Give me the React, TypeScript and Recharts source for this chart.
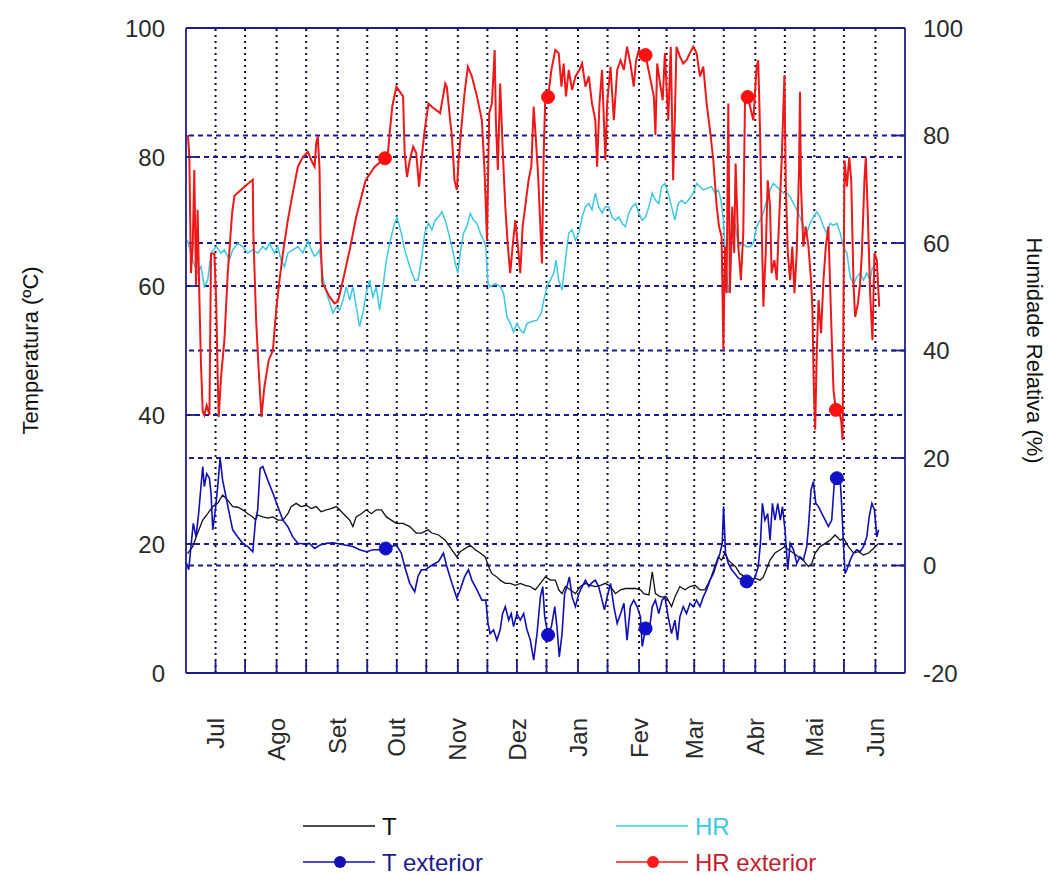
import React from 'react';
import { LineChart, Line, XAxis, YAxis, ReferenceLine } from 'recharts';

const NAVY = '#1c1c8e';
const FONT = '"Liberation Sans", Arial, Helvetica, sans-serif';
const TEXT = '#2a2a2a';

// x axis: day index, day 0 = 16 Jun
const MONTH_DAYS = [15, 46, 77, 107, 138, 168, 199, 230, 258, 289, 319, 350];
const MONTH_LABELS = ['Jul', 'Ago', 'Set', 'Out', 'Nov', 'Dez', 'Jan', 'Fev', 'Mar', 'Abr', 'Mai', 'Jun'];
const MID_MONTH_DAYS = [30, 61, 92, 122, 153, 183, 214, 244, 273, 304, 334];
const LEFT_TICKS = [0, 20, 40, 60, 80, 100];
const RIGHT_TICKS = [-20, 0, 20, 40, 60, 80, 100];
const LEFT_GRID = [20, 40, 60, 80];
const RIGHT_GRID = [0, 20, 40, 60, 80];

const T_EXT_MARKERS = [101.4, 183.8, 233.3, 284.6, 330.4];
const HR_EXT_MARKERS = [101, 183.8, 233.3, 285.1, 329.9];

// T (interior temperature, ºC)
const T_POINTS: [number, number][] = [
  [0.8, 18.5], [3.4, 19.6], [5.9, 21.7], [8.5, 23.7], [11, 24.7], [13.6, 25.8], [16.1, 26.3], [18.6, 27.6],
  [21.2, 26.8], [23.7, 25.8], [26.3, 25.7], [28.8, 25.3], [31.4, 24.7], [33.9, 24.2], [35.3, 23.7], [36.4, 24.5],
  [39, 24.2], [41.5, 24.0], [44.1, 24.2], [46.6, 23.7], [49.2, 23.7], [51.7, 24.7], [53.4, 25.8], [55.9, 26.3],
  [58.5, 25.8], [61, 26.0], [63.6, 25.5], [66.1, 25.8], [68.6, 25.0], [71.2, 25.3], [73.7, 25.5], [76.3, 25.8],
  [78, 25.3], [80.5, 24.5], [83.1, 23.7], [84.7, 22.7], [86.4, 24.2], [89, 24.7], [91.5, 25.3], [94.1, 24.7],
  [96.6, 25.3], [99.2, 25.3], [101.7, 24.2], [104.2, 23.7], [106.8, 23.2], [110.2, 23.2], [113.6, 22.7],
  [116.9, 21.7], [119.5, 21.7], [122.9, 22.2], [124.8, 21.7], [128.2, 21.4], [131.6, 20.6], [135, 19.1],
  [137.5, 18.0], [139.2, 18.8], [141.7, 19.3], [144.3, 19.8], [146.8, 19.1], [149.4, 18.6], [151.9, 18.0],
  [153.6, 16.5], [155.3, 15.4], [157.8, 14.9], [159.5, 14.4], [162.1, 13.9], [164.6, 13.9], [167.2, 13.6],
  [169.7, 13.9], [172.2, 13.6], [174.8, 13.4], [177.3, 12.9], [179.9, 13.9], [182.4, 14.9], [185, 14.4],
  [187.5, 14.4], [189.2, 12.9], [190.9, 12.3], [192.6, 13.4], [195.1, 12.9], [197.7, 12.3], [200.2, 13.4],
  [202.8, 13.9], [205.3, 13.6], [207.8, 13.4], [210.4, 13.6], [212.9, 13.9], [215.5, 13.4], [218, 12.3],
  [220.6, 12.9], [223.1, 13.1], [225.6, 13.1], [228.2, 13.1], [230.7, 12.9], [232.4, 12.3], [235, 12.1],
  [236.7, 15.7], [238.3, 12.3], [240.9, 11.8], [243.9, 11.8], [246.5, 10.3], [248.2, 11.8], [250.7, 13.4],
  [253.3, 12.9], [255.8, 13.4], [258.4, 13.6], [260.9, 12.9], [263.4, 12.9], [266, 14.4], [268.5, 16.5],
  [270.2, 18.0], [271.9, 17.5], [273.6, 18.6], [275.3, 17.5], [277, 17.0], [279, 16.5], [281.2, 15.4],
  [283.8, 14.9], [286.3, 14.4], [288.9, 14.7], [291.4, 14.4], [293.1, 14.9], [294.8, 16.2], [296.5, 17.5],
  [299, 18.6], [301.6, 19.1], [304.1, 19.6], [305.8, 19.1], [308.4, 18.6], [310.9, 18.0], [313.4, 17.5],
  [316, 16.5], [317.7, 17.0], [319.4, 18.6], [321.9, 19.6], [324.5, 20.1], [327, 20.6], [329.5, 21.4],
  [332.1, 20.6], [333.8, 20.9], [336.3, 19.6], [338.9, 18.6], [341.4, 18.8], [343.9, 18.3], [346.5, 18.6],
  [349, 19.3], [351.6, 20.1],
];

// T exterior (ºC)
const T_EXT_POINTS: [number, number][] = [
  [0.3, 17.0], [1.4, 16.0], [2.5, 19.6], [3.7, 23.2], [5.1, 21.1], [6.4, 24.7], [7.6, 28.9], [8.5, 32.0],
  [9.3, 28.9], [10.5, 30.9], [11.9, 30.2], [12.7, 27.9], [13.6, 22.2], [14.9, 25.3], [16.1, 28.9], [17.3, 33.3],
  [18.6, 29.9], [20.3, 27.3], [22, 24.7], [23.7, 22.2], [26.3, 21.1], [28.8, 20.1], [31.4, 19.6], [33.9, 18.8],
  [35.3, 23.7], [36.4, 25.3], [37.6, 31.7], [39, 32.0], [41.5, 29.9], [44.1, 27.9], [46.6, 25.8], [49.2, 23.7],
  [51.7, 22.7], [54.2, 21.1], [56.8, 20.1], [60.2, 20.0], [62.7, 20.1], [65.3, 19.3], [67.8, 19.8], [71.2, 20.1],
  [74.6, 20.2], [78, 20.0], [81.4, 19.8], [84.7, 19.6], [88.1, 19.1], [91.5, 18.8], [94.9, 19.1], [98.3, 19.1],
  [101.4, 19.3], [104.2, 19.6], [106.8, 19.8], [109.3, 18.6], [111, 16.5], [113.6, 13.9], [116.1, 12.6],
  [117.8, 15.0], [119.5, 16.0], [121.4, 16.0], [124.8, 16.7], [128.2, 17.3], [130.7, 18.6], [132.4, 16.5],
  [135, 13.9], [137.5, 11.6], [139.2, 12.9], [141.4, 14.9], [143.4, 16.0], [145.1, 14.4], [147.7, 12.9],
  [150.2, 11.3], [152.2, 11.3], [153.3, 7.7], [154.4, 6.1], [156.1, 6.7], [157.8, 5.1], [159.5, 6.7],
  [160.7, 9.2], [162.1, 10.3], [163.8, 8.2], [165.1, 9.2], [166.3, 7.2], [168, 9.2], [169.7, 8.2], [171.4, 9.2],
  [173.1, 6.7], [174.8, 5.1], [176.5, 2.0], [178.2, 6.1], [179.9, 11.8], [181.1, 13.4], [182.1, 8.7],
  [183.8, 5.9], [185.5, 7.2], [187.2, 10.3], [188.3, 7.2], [189.5, 2.5], [190.9, 6.1], [192.2, 12.3],
  [193.4, 13.4], [194.6, 14.9], [196, 11.8], [197.7, 10.3], [199.4, 12.3], [201.1, 13.4], [202.8, 14.4],
  [204.5, 13.4], [206.1, 14.0], [207.8, 14.4], [209.5, 13.4], [211.2, 11.3], [212.4, 9.8], [213.8, 11.8],
  [215.5, 13.9], [217.2, 10.3], [218.9, 7.7], [220.6, 9.2], [222.3, 10.8], [223.9, 5.1], [225.6, 10.3],
  [227.3, 11.3], [229, 10.3], [230.7, 8.7], [231.6, 4.1], [233.3, 6.9], [235, 6.1], [236.7, 10.3], [238.3, 11.3],
  [240, 9.2], [241.7, 11.3], [243.1, 11.8], [244.8, 8.7], [246.5, 6.1], [248.2, 8.2], [249.5, 5.1], [250.7, 8.7],
  [252.4, 10.3], [254.1, 9.2], [255.8, 10.8], [257.5, 10.3], [259.2, 11.3], [260.9, 10.3], [262.6, 11.8],
  [264.3, 12.9], [266, 14.4], [267.7, 15.4], [269.4, 17.0], [271.1, 18.6], [272.2, 20.1], [272.9, 25.8],
  [273.9, 18.6], [275.3, 17.0], [277, 16.0], [278.7, 15.4], [280.4, 14.7], [284.6, 14.2], [287.2, 13.9],
  [288.9, 14.9], [290.5, 16.5], [291.6, 20.1], [292.6, 26.3], [293.9, 23.7], [295.3, 24.7], [296.5, 20.6],
  [297.7, 26.3], [299, 23.7], [300.4, 26.3], [301.7, 23.7], [302.8, 25.8], [304.1, 22.2], [305.5, 16.0],
  [306.7, 20.1], [308.4, 19.1], [310.1, 17.0], [311.7, 18.0], [313.4, 17.5], [315.1, 19.6], [316, 22.7],
  [317.3, 28.4], [318.5, 29.7], [319.7, 26.3], [321.1, 25.8], [322.8, 24.7], [324.5, 23.7], [326.1, 22.7],
  [327.8, 23.7], [329.2, 29.9], [330.4, 30.2], [332.1, 29.9], [332.9, 25.8], [333.8, 19.6], [334.6, 15.4],
  [335.5, 16.0], [337.2, 17.5], [338.9, 18.6], [340.6, 19.1], [342.2, 18.8], [343.9, 19.6], [345.6, 21.1],
  [346.8, 24.2], [348.2, 26.3], [349.5, 25.3], [350.7, 21.1], [351.6, 22.2],
];

// HR (interior relative humidity, read on the left scale)
const HR_POINTS: [number, number][] = [
  [0.8, 67.1], [3.4, 64.0], [5.9, 62.0], [7.6, 63.0], [9.3, 59.9], [11, 60.9], [12.7, 65.1], [15.3, 66.1],
  [17.8, 65.1], [19.5, 65.6], [22, 64.0], [23.7, 65.6], [26.3, 66.6], [28.8, 66.1], [31.4, 65.1], [33.9, 65.6],
  [36.4, 65.1], [39, 66.1], [40.7, 65.6], [42.4, 66.6], [44.9, 65.1], [46.6, 66.1], [48.3, 64.0], [50, 63.0],
  [51.7, 65.1], [54.2, 65.6], [56.8, 66.1], [59.3, 65.1], [61.9, 67.1], [63.6, 65.6], [65.3, 64.6], [66.9, 65.1],
  [67.8, 65.6], [69.2, 62.0], [70.3, 59.9], [72, 58.3], [74.6, 55.8], [76.3, 56.8], [78, 56.3], [79.7, 57.8],
  [81.4, 59.9], [83.1, 57.8], [84.7, 59.9], [86.4, 56.8], [88.1, 53.7], [89.8, 55.8], [91.5, 58.9], [93.2, 60.9],
  [94.9, 58.3], [96.6, 59.9], [98.3, 56.3], [100, 59.9], [101.7, 64.0], [103.4, 66.6], [105.4, 69.2],
  [107.1, 70.7], [109.3, 68.2], [111, 65.6], [113.6, 63.0], [116.1, 60.9], [117.8, 60.9], [119.5, 64.0],
  [121.2, 68.2], [123.1, 69.7], [124.8, 68.7], [126.5, 70.2], [128.2, 70.7], [129.9, 71.5], [131.6, 70.2],
  [133.3, 68.2], [135, 66.1], [136.7, 63.5], [138, 62.0], [139.2, 65.1], [140.9, 68.2], [142.6, 69.2],
  [144.3, 71.3], [146, 70.2], [147.7, 69.7], [149.4, 68.2], [151.1, 67.1], [152.2, 66.1], [153.3, 60.4],
  [154.4, 59.9], [157, 60.4], [159.5, 59.9], [161.2, 58.9], [162.9, 55.2], [164.6, 54.2], [166.3, 52.9],
  [168, 54.2], [169.7, 53.2], [171.4, 52.7], [173.1, 54.2], [175.6, 54.5], [178.2, 54.7], [180.4, 55.8],
  [181.6, 57.8], [183.3, 59.9], [185, 60.9], [186.7, 62.0], [187.8, 64.0], [189.2, 60.9], [190.9, 59.4],
  [192.6, 64.0], [194.3, 68.2], [196, 68.7], [197.7, 67.1], [199.4, 68.2], [201.1, 70.7], [202.8, 72.3],
  [204.5, 72.8], [206.1, 71.8], [207.8, 74.4], [209.5, 72.3], [211.2, 71.3], [212.9, 72.3], [214.6, 72.3],
  [216.3, 70.7], [218, 70.2], [219.7, 70.7], [221.4, 69.7], [223.1, 69.2], [224.8, 71.3], [226.5, 72.3],
  [228.2, 72.8], [229.9, 71.3], [231.6, 70.2], [233.3, 70.7], [235, 72.3], [236.7, 74.4], [238.3, 73.3],
  [240, 72.8], [241.4, 75.4], [243.1, 75.9], [244.8, 74.4], [246.5, 72.3], [248.2, 70.2], [249.9, 72.8],
  [251.6, 73.3], [253.3, 72.8], [255, 73.3], [257.5, 74.4], [259.2, 75.9], [260.9, 75.4], [262.6, 74.9],
  [264.3, 75.1], [266.8, 75.4], [268.5, 74.4], [270.2, 74.9], [271.6, 73.3], [272.8, 70.2], [273.6, 66.1],
  [274.4, 62.0], [275.3, 58.9], [276.1, 60.9], [277, 66.1], [277.8, 70.2], [279, 69.2], [280.4, 66.1],
  [282.1, 66.6], [284.6, 66.1], [286.3, 66.1], [288, 66.6], [289.7, 69.2], [291.4, 70.2], [293.1, 71.3],
  [294.8, 73.3], [296.5, 74.9], [298.2, 75.9], [299.9, 75.4], [301.6, 74.9], [303.3, 74.4], [305, 74.4],
  [306.7, 73.8], [308.4, 72.8], [310.1, 71.8], [311.7, 70.7], [313.4, 69.2], [315.1, 68.2], [316.8, 69.7],
  [318.5, 70.7], [320.2, 71.5], [321.9, 70.7], [323.6, 69.2], [325.3, 68.2], [327, 69.7], [328.7, 69.4],
  [330.4, 69.7], [332.1, 68.2], [333.8, 66.1], [335.5, 65.1], [337.2, 61.4], [338.9, 60.4], [340.6, 61.4],
  [342.2, 62.0], [343.9, 60.9], [345.6, 62.0], [347.3, 60.9], [348.5, 63.0],
];

// HR exterior (read on the left scale)
const HR_EXT_POINTS: [number, number][] = [
  [1.0, 83.4], [1.7, 80], [2.5, 62], [3.4, 66], [4.2, 78], [5.1, 60], [5.9, 71.8], [6.8, 58], [7.6, 48],
  [8.5, 40.5], [9.3, 40], [10.5, 41.5], [11.9, 40], [12.7, 65], [14.4, 65], [15.3, 57.8], [16.1, 46],
  [16.6, 39.7], [17.8, 46], [19.5, 51.6], [21.2, 62], [23.4, 71.3], [24.6, 74], [29.7, 75.4], [33.9, 76.5],
  [34.2, 68], [35.6, 54.7], [36.9, 47], [38.3, 39.7], [39.8, 44.4], [42, 48.5], [44.1, 50], [45.8, 56.3],
  [47.5, 61], [49.2, 65.1], [51.7, 70.2], [54.2, 74.4], [56.8, 78.5], [59.3, 80], [61.9, 80.8], [63.6, 79.5],
  [65.3, 78.5], [66.1, 82.1], [66.9, 83.2], [67.8, 78], [68.3, 67.6], [69.2, 60.4], [70.3, 59.9], [72.9, 58.3],
  [75.4, 57.3], [77.1, 57.6], [79.7, 60.9], [83.1, 65.6], [86.4, 70.7], [91.2, 76.4], [95.8, 78.5], [101, 79.8],
  [102.5, 80.6], [103.4, 83.7], [104.7, 87.8], [106.8, 90.9], [110.2, 89.4], [111, 80.6], [112.2, 76.9],
  [113.6, 79.5], [115.3, 81.6], [116.9, 80.6], [118.3, 75.4], [119.5, 79.5], [121.2, 84.2], [123.1, 88.3],
  [124.8, 87.8], [129, 86.8], [131.6, 91.4], [132.4, 90.9], [134.1, 85.7], [135, 83.2], [136.3, 76.4],
  [137.5, 74.9], [138.4, 79.5], [139.7, 84.2], [141.4, 89.9], [143.1, 94.0], [145.1, 92.5], [147.7, 89.4],
  [150.2, 85.7], [151.6, 77.5], [152.8, 67.1], [153.9, 86.8], [155.3, 88.3], [156.7, 96.6], [157.3, 85.7],
  [158.3, 78.0], [159.5, 91.4], [160.7, 81.6], [162.1, 72.3], [163.4, 66.1], [164.6, 62.0], [165.8, 66.1],
  [167.2, 70.2], [168.5, 66.1], [169.7, 62.0], [170.9, 69.2], [172.2, 72.3], [173.9, 76.4], [175.3, 78.5],
  [176.5, 87.8], [177.3, 84.2], [178.7, 77.5], [179.9, 69.2], [180.7, 63.5], [181.6, 80.6], [182.4, 89.4],
  [183.8, 89.3], [185.5, 93.5], [187.5, 96.6], [189.2, 96.1], [190.6, 90.9], [191.7, 94.5], [192.9, 89.4],
  [194.3, 93.5], [196, 90.4], [197.7, 92.5], [199.7, 93.5], [201.1, 94.5], [202.8, 90.9], [204.5, 92.5],
  [206.1, 88.3], [207.8, 85.7], [208.7, 78.5], [209.9, 88.3], [211.2, 93.5], [212.9, 79.5], [213.8, 88.3],
  [215.5, 94.0], [217.2, 85.7], [218.9, 93.5], [220.6, 95.0], [222.3, 93.5], [223.9, 97.1], [225.6, 94.5],
  [227.3, 90.9], [228.5, 95.0], [229.9, 96.6], [233.3, 95.8], [234.1, 94.5], [235.8, 92.0], [237.5, 89.4],
  [238.3, 83.4], [239.2, 94.5], [240.9, 90.9], [242.0, 88.8], [243.1, 96.1], [244.8, 85.7], [246.1, 97.1],
  [247.3, 76.4], [248.2, 86.8], [249, 97.1], [250.7, 95.6], [252.4, 94.5], [254.1, 95.0], [255.8, 96.1],
  [257.5, 97.1], [259.2, 96.1], [260.9, 92.5], [262.6, 94.0], [264.3, 88.3], [266, 84.2], [267.7, 79.5],
  [269.4, 72.3], [270.6, 69.2], [271.9, 67.6], [272.8, 50.1], [273.6, 66.1], [274.4, 58.9], [275.3, 88.3],
  [276.1, 58.9], [277.3, 72.3], [278.3, 65.1], [279, 79.0], [280.4, 66.1], [281.7, 60.9], [282.9, 68.2],
  [283.8, 89.4], [285.1, 89.3], [286.0, 88.3], [288, 85.7], [289.7, 94.0], [290.5, 95.0], [291.4, 84.2],
  [292.2, 70.2], [293.1, 56.8], [294.3, 65.1], [295.3, 76.4], [296.5, 72.3], [297.3, 62.0], [298.7, 64.0],
  [299.9, 60.9], [301.1, 70.2], [302.4, 79.5], [303.8, 92.7], [304.5, 75.4], [305.5, 65.1], [306.7, 60.9],
  [307.8, 66.1], [308.9, 58.9], [310, 65.1], [311.2, 78.0], [311.7, 90.1], [312.2, 75.4], [313.4, 66.1],
  [314.6, 69.2], [316, 66.1], [317.3, 60.9], [318, 56.3], [318.7, 44.4], [319.4, 37.7], [320.2, 49.6],
  [321.1, 57.8], [322.4, 52.7], [323.6, 60.9], [324.8, 66.1], [326.1, 69.2], [327, 59.9], [327.8, 52.1],
  [328.7, 43.9], [329.9, 40.8], [331.2, 40.8], [332.6, 39.2], [333.3, 36.1], [334.3, 79.5], [335.5, 75.4],
  [336.7, 80.0], [337.7, 76.4], [338.9, 59.9], [339.7, 55.2], [341.1, 57.3], [342.2, 60.4], [343.1, 65.1],
  [344.4, 76.4], [345.1, 80.0], [346.1, 71.3], [347.3, 58.9], [348.5, 51.6], [349.5, 65.1], [350.7, 64.0],
  [351.9, 56.8],
];

const rows = (pts: [number, number][]) => pts.map(([d, v]) => ({ d, v }));

const X_TICKS = [...MONTH_DAYS, ...MID_MONTH_DAYS].sort((a, b) => a - b);

const markerDot = (days: number[], color: string) => (props: any) => {
  const { cx, cy, payload, index } = props;
  if (cx == null || cy == null || !payload || !days.includes(payload.d)) {
    return <g key={`n${index}`} />;
  }
  return <circle key={`m${index}`} cx={cx} cy={cy} r={6.5} fill={color} stroke={color} />;
};

const LeftTick = (props: any) => {
  const { x, y, payload } = props;
  return (
    <g>
      <line x1={x + 21} x2={x + 34} y1={y} y2={y} stroke={NAVY} strokeWidth={1.8} />
      <text x={x} y={y} dy="0.36em" textAnchor="end" fontSize={24} fontFamily={FONT} fill={TEXT}>
        {payload.value}
      </text>
    </g>
  );
};

const RightTick = (props: any) => {
  const { x, y, payload } = props;
  return (
    <g>
      <line x1={x - 18} x2={x - 31} y1={y} y2={y} stroke={NAVY} strokeWidth={1.8} />
      <text x={x} y={y} dy="0.36em" textAnchor="start" fontSize={24} fontFamily={FONT} fill={TEXT}>
        {payload.value}
      </text>
    </g>
  );
};

const BottomTick = (props: any) => {
  const { x, y, payload } = props;
  const idx = MONTH_DAYS.indexOf(payload.value);
  const axisY = y - 6;
  const ty = axisY + 45;
  return (
    <g>
      <line x1={x} x2={x} y1={axisY} y2={axisY - 12} stroke={NAVY} strokeWidth={1.8} />
      {idx >= 0 && (
        <text
          x={x}
          y={ty}
          dy="0.36em"
          textAnchor="end"
          transform={`rotate(-90, ${x}, ${ty})`}
          fontSize={24}
          fontFamily={FONT}
          fill={TEXT}
        >
          {MONTH_LABELS[idx]}
        </text>
      )}
    </g>
  );
};

const leftTitle = (p: any) => {
  const vb = p && p.viewBox ? p.viewBox : { x: 120, y: 28, width: 66, height: 645 };
  const cx = vb.x - 90;
  const cy = vb.y + vb.height / 2;
  return (
    <text x={cx} y={cy} dy="0.36em" textAnchor="middle" transform={`rotate(-90, ${cx}, ${cy})`}
      fontSize={22} fontFamily={FONT} fill="#111">
      Temperatura (ºC)
    </text>
  );
};

const rightTitle = (p: any) => {
  const vb = p && p.viewBox ? p.viewBox : { x: 905, y: 28, width: 60, height: 645 };
  const cx = vb.x + 130;
  const cy = vb.y + vb.height / 2;
  return (
    <text x={cx} y={cy} dy="0.36em" textAnchor="middle" transform={`rotate(90, ${cx}, ${cy})`}
      fontSize={22} fontFamily={FONT} fill="#111">
      Humidade Relativa (%)
    </text>
  );
};

const LEGEND = [
  { label: 'T', color: '#111111', text: '#111111', marker: false, x: 303, y: 826 },
  { label: 'HR', color: '#3cc8e0', text: '#3cc8e0', marker: false, x: 616, y: 826 },
  { label: 'T exterior', color: '#1010b4', text: '#1c1c8e', marker: true, x: 303, y: 862 },
  { label: 'HR exterior', color: '#ff1a1a', text: '#c41e2e', marker: true, x: 616, y: 862 },
];

export default function App() {
  return (
    <div style={{ position: 'absolute', left: 0, top: 0, width: 1050, height: 875, background: '#fff' }}>
      <LineChart width={1050} height={875} margin={{ top: 28, right: 85, bottom: 52, left: 120 }}>
        <XAxis
          dataKey="d"
          type="number"
          domain={[0, 365]}
          ticks={X_TICKS}
          interval={0}
          allowDataOverflow
          height={150}
          tickSize={6}
          tickMargin={0}
          tickLine={false}
          tick={BottomTick}
          axisLine={{ stroke: NAVY, strokeWidth: 1.8 }}
        />
        <YAxis
          yAxisId="left"
          type="number"
          domain={[0, 100]}
          ticks={LEFT_TICKS}
          interval={0}
          allowDataOverflow
          width={66}
          tickSize={6}
          tickMargin={15}
          tickLine={false}
          tick={LeftTick}
          axisLine={{ stroke: NAVY, strokeWidth: 1.8 }}
          label={{ content: leftTitle }}
        />
        <YAxis
          yAxisId="right"
          orientation="right"
          type="number"
          domain={[-20, 100]}
          ticks={RIGHT_TICKS}
          interval={0}
          allowDataOverflow
          width={60}
          tickSize={6}
          tickMargin={12}
          tickLine={false}
          tick={RightTick}
          axisLine={{ stroke: NAVY, strokeWidth: 1.8 }}
          label={{ content: rightTitle }}
        />
        {X_TICKS.map((d) => (
          <ReferenceLine key={`vx${d}`} x={d} yAxisId="left" stroke="#10102e" strokeWidth={2} strokeDasharray="2 4" />
        ))}
        {LEFT_GRID.map((v) => (
          <ReferenceLine key={`hl${v}`} y={v} yAxisId="left" stroke={NAVY} strokeWidth={1.8} strokeDasharray="5 4" />
        ))}
        {RIGHT_GRID.map((v) => (
          <ReferenceLine key={`hr${v}`} y={v} yAxisId="right" stroke={NAVY} strokeWidth={1.8} strokeDasharray="5 4" />
        ))}
        <ReferenceLine y={100} yAxisId="left" stroke={NAVY} strokeWidth={1.8} />
        <Line
          data={rows(T_POINTS)}
          dataKey="v"
          yAxisId="left"
          type="linear"
          stroke="#111111"
          strokeWidth={1.3}
          dot={false}
          activeDot={false}
          isAnimationActive={false}
        />
        <Line
          data={rows(HR_POINTS)}
          dataKey="v"
          yAxisId="left"
          type="linear"
          stroke="#3cc8e0"
          strokeWidth={1.5}
          dot={false}
          activeDot={false}
          isAnimationActive={false}
        />
        <Line
          data={rows(T_EXT_POINTS)}
          dataKey="v"
          yAxisId="left"
          type="linear"
          stroke="#1010b4"
          strokeWidth={1.6}
          dot={markerDot(T_EXT_MARKERS, '#1010c8')}
          activeDot={false}
          isAnimationActive={false}
        />
        <Line
          data={rows(HR_EXT_POINTS)}
          dataKey="v"
          yAxisId="left"
          type="linear"
          stroke="#ee1818"
          strokeWidth={2}
          dot={markerDot(HR_EXT_MARKERS, '#ff1010')}
          activeDot={false}
          isAnimationActive={false}
        />
      </LineChart>
      <svg width={1050} height={875} style={{ position: 'absolute', left: 0, top: 0, pointerEvents: 'none' }}>
        {LEGEND.map((it) => (
          <g key={it.label}>
            <line x1={it.x} x2={it.x + 72} y1={it.y} y2={it.y} stroke={it.color} strokeWidth={1.6} />
            {it.marker && <circle cx={it.x + 37} cy={it.y} r={6} fill={it.color} />}
            <text x={it.x + 79} y={it.y} dy="0.36em" fontSize={24} fontFamily={FONT} fill={it.text}>
              {it.label}
            </text>
          </g>
        ))}
      </svg>
    </div>
  );
}
